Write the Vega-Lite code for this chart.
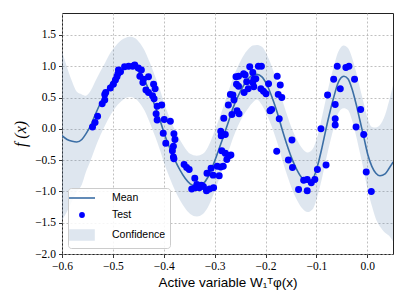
{
  "$schema": "https://vega.github.io/schema/vega-lite/v6.json",
  "width": 331,
  "height": 241,
  "autosize": "none",
  "padding": {"left": 62, "top": 13, "right": 14, "bottom": 51},
  "background": "white",
  "config": {
    "view": {"stroke": "#222222", "strokeWidth": 1},
    "axis": {
      "labelFont": "Liberation Serif", "labelFontSize": 11.5, "labelColor": "#000000",
      "tickColor": "#000000", "tickSize": 3.5, "tickWidth": 0.8, "domain": false,
      "gridColor": "#b0b0b0", "gridDash": [2, 2], "gridWidth": 0.8, "labelPadding": 3,
      "labelOverlap": false, "labelFlush": false, "labelBound": false,
      "titleFont": "Liberation Sans", "titleFontWeight": "normal", "titleColor": "#000000"
    },
    "axisX": {"values": [-0.6, -0.5, -0.4, -0.3, -0.2, -0.1, 0.0], "format": ".1f", "titleFontSize": 13.5, "titlePadding": 3},
    "axisY": {"values": [-2, -1.5, -1, -0.5, 0, 0.5, 1, 1.5], "format": ".1f", "titleFont": "Liberation Serif", "titleFontStyle": "italic", "titleFontSize": 16, "titlePadding": 6},
    "legend": {
      "title": null, "orient": "bottom-left", "offset": 6, "padding": 4,
      "fillColor": "rgba(255,255,255,0.85)", "strokeColor": "#cccccc", "cornerRadius": 3,
      "symbolSize": 100, "symbolOffset": 4, "labelFont": "Liberation Sans", "labelFontSize": 10.5,
      "labelColor": "#000000", "labelOffset": 24, "rowPadding": 5, "symbolStrokeWidth": 1.6
    }
  },
  "datasets": {
    "curve": [
      {"x": -0.600, "m": -0.11, "lo": -1.46, "hi": 1.24},
      {"x": -0.590, "m": -0.17, "lo": -1.32, "hi": 0.98},
      {"x": -0.580, "m": -0.20, "lo": -1.15, "hi": 0.75},
      {"x": -0.571, "m": -0.21, "lo": -1.01, "hi": 0.59},
      {"x": -0.561, "m": -0.17, "lo": -0.89, "hi": 0.55},
      {"x": -0.553, "m": -0.08, "lo": -0.69, "hi": 0.53},
      {"x": -0.545, "m": 0.03, "lo": -0.53, "hi": 0.59},
      {"x": -0.535, "m": 0.22, "lo": -0.31, "hi": 0.75},
      {"x": -0.525, "m": 0.40, "lo": -0.11, "hi": 0.91},
      {"x": -0.515, "m": 0.56, "lo": 0.06, "hi": 1.06},
      {"x": -0.506, "m": 0.70, "lo": 0.20, "hi": 1.20},
      {"x": -0.496, "m": 0.82, "lo": 0.33, "hi": 1.31},
      {"x": -0.486, "m": 0.91, "lo": 0.42, "hi": 1.40},
      {"x": -0.476, "m": 0.97, "lo": 0.49, "hi": 1.45},
      {"x": -0.466, "m": 0.99, "lo": 0.51, "hi": 1.47},
      {"x": -0.457, "m": 0.97, "lo": 0.49, "hi": 1.45},
      {"x": -0.447, "m": 0.89, "lo": 0.41, "hi": 1.37},
      {"x": -0.437, "m": 0.76, "lo": 0.28, "hi": 1.24},
      {"x": -0.427, "m": 0.57, "lo": 0.09, "hi": 1.05},
      {"x": -0.417, "m": 0.36, "lo": -0.12, "hi": 0.84},
      {"x": -0.407, "m": 0.13, "lo": -0.35, "hi": 0.61},
      {"x": -0.398, "m": -0.10, "lo": -0.58, "hi": 0.38},
      {"x": -0.388, "m": -0.31, "lo": -0.79, "hi": 0.17},
      {"x": -0.378, "m": -0.50, "lo": -0.98, "hi": -0.02},
      {"x": -0.368, "m": -0.66, "lo": -1.14, "hi": -0.18},
      {"x": -0.358, "m": -0.79, "lo": -1.27, "hi": -0.31},
      {"x": -0.348, "m": -0.88, "lo": -1.36, "hi": -0.40},
      {"x": -0.335, "m": -0.92, "lo": -1.40, "hi": -0.43},
      {"x": -0.323, "m": -0.88, "lo": -1.36, "hi": -0.40},
      {"x": -0.313, "m": -0.77, "lo": -1.25, "hi": -0.29},
      {"x": -0.303, "m": -0.58, "lo": -1.06, "hi": -0.10},
      {"x": -0.293, "m": -0.36, "lo": -0.84, "hi": 0.12},
      {"x": -0.283, "m": -0.13, "lo": -0.61, "hi": 0.35},
      {"x": -0.273, "m": 0.11, "lo": -0.37, "hi": 0.59},
      {"x": -0.264, "m": 0.33, "lo": -0.15, "hi": 0.81},
      {"x": -0.254, "m": 0.52, "lo": 0.05, "hi": 1.00},
      {"x": -0.244, "m": 0.68, "lo": 0.21, "hi": 1.16},
      {"x": -0.234, "m": 0.80, "lo": 0.33, "hi": 1.27},
      {"x": -0.225, "m": 0.86, "lo": 0.42, "hi": 1.33},
      {"x": -0.217, "m": 0.87, "lo": 0.47, "hi": 1.34},
      {"x": -0.207, "m": 0.83, "lo": 0.38, "hi": 1.31},
      {"x": -0.197, "m": 0.70, "lo": 0.22, "hi": 1.18},
      {"x": -0.187, "m": 0.50, "lo": 0.02, "hi": 0.98},
      {"x": -0.177, "m": 0.26, "lo": -0.22, "hi": 0.74},
      {"x": -0.168, "m": 0.01, "lo": -0.47, "hi": 0.49},
      {"x": -0.158, "m": -0.25, "lo": -0.73, "hi": 0.23},
      {"x": -0.148, "m": -0.48, "lo": -0.96, "hi": 0.00},
      {"x": -0.138, "m": -0.66, "lo": -1.14, "hi": -0.18},
      {"x": -0.128, "m": -0.79, "lo": -1.27, "hi": -0.31},
      {"x": -0.117, "m": -0.85, "lo": -1.33, "hi": -0.38},
      {"x": -0.107, "m": -0.80, "lo": -1.28, "hi": -0.32},
      {"x": -0.097, "m": -0.57, "lo": -1.05, "hi": -0.09},
      {"x": -0.089, "m": -0.30, "lo": -0.79, "hi": 0.19},
      {"x": -0.081, "m": 0.00, "lo": -0.49, "hi": 0.49},
      {"x": -0.073, "m": 0.28, "lo": -0.21, "hi": 0.77},
      {"x": -0.065, "m": 0.53, "lo": 0.04, "hi": 1.02},
      {"x": -0.058, "m": 0.72, "lo": 0.23, "hi": 1.21},
      {"x": -0.052, "m": 0.81, "lo": 0.31, "hi": 1.30},
      {"x": -0.046, "m": 0.84, "lo": 0.33, "hi": 1.33},
      {"x": -0.038, "m": 0.80, "lo": 0.30, "hi": 1.29},
      {"x": -0.030, "m": 0.64, "lo": 0.14, "hi": 1.14},
      {"x": -0.022, "m": 0.40, "lo": -0.11, "hi": 0.91},
      {"x": -0.014, "m": 0.12, "lo": -0.40, "hi": 0.64},
      {"x": -0.006, "m": -0.16, "lo": -0.70, "hi": 0.38},
      {"x": 0.001, "m": -0.41, "lo": -0.98, "hi": 0.16},
      {"x": 0.009, "m": -0.60, "lo": -1.23, "hi": 0.03},
      {"x": 0.017, "m": -0.71, "lo": -1.44, "hi": 0.02},
      {"x": 0.025, "m": -0.75, "lo": -1.56, "hi": 0.06},
      {"x": 0.035, "m": -0.72, "lo": -1.66, "hi": 0.22},
      {"x": 0.043, "m": -0.63, "lo": -1.71, "hi": 0.45},
      {"x": 0.051, "m": -0.53, "lo": -1.80, "hi": 0.71}
    ],
    "test": [
      {"x": -0.540, "y": 0.03, "s": "Test"}, {"x": -0.535, "y": 0.10, "s": "Test"}, {"x": -0.530, "y": 0.20, "s": "Test"},
      {"x": -0.521, "y": 0.40, "s": "Test"}, {"x": -0.516, "y": 0.46, "s": "Test"}, {"x": -0.516, "y": 0.55, "s": "Test"},
      {"x": -0.514, "y": 0.58, "s": "Test"}, {"x": -0.505, "y": 0.65, "s": "Test"}, {"x": -0.499, "y": 0.71, "s": "Test"},
      {"x": -0.495, "y": 0.78, "s": "Test"}, {"x": -0.492, "y": 0.83, "s": "Test"}, {"x": -0.490, "y": 0.88, "s": "Test"},
      {"x": -0.489, "y": 0.94, "s": "Test"}, {"x": -0.485, "y": 0.91, "s": "Test"}, {"x": -0.477, "y": 0.99, "s": "Test"},
      {"x": -0.469, "y": 1.00, "s": "Test"}, {"x": -0.461, "y": 1.00, "s": "Test"}, {"x": -0.457, "y": 1.02, "s": "Test"},
      {"x": -0.450, "y": 0.97, "s": "Test"}, {"x": -0.444, "y": 0.94, "s": "Test"}, {"x": -0.447, "y": 0.84, "s": "Test"},
      {"x": -0.440, "y": 0.79, "s": "Test"}, {"x": -0.441, "y": 0.74, "s": "Test"}, {"x": -0.430, "y": 0.83, "s": "Test"},
      {"x": -0.435, "y": 0.62, "s": "Test"}, {"x": -0.430, "y": 0.58, "s": "Test"}, {"x": -0.420, "y": 0.71, "s": "Test"},
      {"x": -0.417, "y": 0.64, "s": "Test"}, {"x": -0.422, "y": 0.53, "s": "Test"}, {"x": -0.419, "y": 0.48, "s": "Test"},
      {"x": -0.413, "y": 0.36, "s": "Test"}, {"x": -0.404, "y": 0.38, "s": "Test"}, {"x": -0.415, "y": 0.24, "s": "Test"},
      {"x": -0.413, "y": 0.14, "s": "Test"}, {"x": -0.399, "y": 0.15, "s": "Test"}, {"x": -0.387, "y": 0.12, "s": "Test"},
      {"x": -0.401, "y": -0.07, "s": "Test"}, {"x": -0.380, "y": -0.08, "s": "Test"}, {"x": -0.396, "y": -0.23, "s": "Test"},
      {"x": -0.378, "y": -0.17, "s": "Test"}, {"x": -0.381, "y": -0.28, "s": "Test"}, {"x": -0.383, "y": -0.35, "s": "Test"},
      {"x": -0.381, "y": -0.45, "s": "Test"}, {"x": -0.380, "y": -0.48, "s": "Test"}, {"x": -0.360, "y": -0.57, "s": "Test"},
      {"x": -0.355, "y": -0.62, "s": "Test"}, {"x": -0.350, "y": -0.65, "s": "Test"}, {"x": -0.339, "y": -0.79, "s": "Test"},
      {"x": -0.345, "y": -0.96, "s": "Test"}, {"x": -0.338, "y": -0.94, "s": "Test"}, {"x": -0.335, "y": -0.89, "s": "Test"},
      {"x": -0.330, "y": -0.94, "s": "Test"}, {"x": -0.326, "y": -0.90, "s": "Test"}, {"x": -0.322, "y": -0.92, "s": "Test"},
      {"x": -0.316, "y": -0.99, "s": "Test"}, {"x": -0.310, "y": -0.96, "s": "Test"}, {"x": -0.302, "y": -0.94, "s": "Test"},
      {"x": -0.315, "y": -0.71, "s": "Test"}, {"x": -0.307, "y": -0.63, "s": "Test"}, {"x": -0.303, "y": -0.74, "s": "Test"},
      {"x": -0.295, "y": -0.60, "s": "Test"}, {"x": -0.291, "y": -0.75, "s": "Test"}, {"x": -0.288, "y": -0.61, "s": "Test"},
      {"x": -0.283, "y": -0.60, "s": "Test"}, {"x": -0.286, "y": -0.35, "s": "Test"}, {"x": -0.287, "y": -0.11, "s": "Test"},
      {"x": -0.279, "y": -0.39, "s": "Test"}, {"x": -0.276, "y": -0.49, "s": "Test"}, {"x": -0.272, "y": -0.43, "s": "Test"},
      {"x": -0.268, "y": -0.42, "s": "Test"}, {"x": -0.279, "y": -0.09, "s": "Test"}, {"x": -0.288, "y": -0.04, "s": "Test"},
      {"x": -0.282, "y": 0.17, "s": "Test"}, {"x": -0.273, "y": 0.38, "s": "Test"}, {"x": -0.269, "y": 0.55, "s": "Test"},
      {"x": -0.264, "y": 0.54, "s": "Test"}, {"x": -0.262, "y": 0.46, "s": "Test"}, {"x": -0.266, "y": 0.23, "s": "Test"},
      {"x": -0.256, "y": 0.29, "s": "Test"}, {"x": -0.252, "y": 0.24, "s": "Test"}, {"x": -0.258, "y": 0.83, "s": "Test"},
      {"x": -0.253, "y": 0.84, "s": "Test"}, {"x": -0.257, "y": 0.71, "s": "Test"}, {"x": -0.253, "y": 0.68, "s": "Test"},
      {"x": -0.243, "y": 0.88, "s": "Test"}, {"x": -0.240, "y": 0.86, "s": "Test"}, {"x": -0.242, "y": 0.58, "s": "Test"},
      {"x": -0.234, "y": 0.64, "s": "Test"}, {"x": -0.237, "y": 0.75, "s": "Test"}, {"x": -0.231, "y": 0.99, "s": "Test"},
      {"x": -0.225, "y": 0.90, "s": "Test"}, {"x": -0.225, "y": 0.74, "s": "Test"}, {"x": -0.223, "y": 0.67, "s": "Test"},
      {"x": -0.219, "y": 0.80, "s": "Test"}, {"x": -0.223, "y": 0.79, "s": "Test"}, {"x": -0.214, "y": 1.00, "s": "Test"},
      {"x": -0.208, "y": 1.00, "s": "Test"}, {"x": -0.209, "y": 0.64, "s": "Test"}, {"x": -0.204, "y": 0.60, "s": "Test"},
      {"x": -0.199, "y": 0.56, "s": "Test"}, {"x": -0.194, "y": 0.72, "s": "Test"}, {"x": -0.191, "y": 0.29, "s": "Test"},
      {"x": -0.188, "y": 0.31, "s": "Test"}, {"x": -0.177, "y": 0.84, "s": "Test"}, {"x": -0.175, "y": 0.55, "s": "Test"},
      {"x": -0.173, "y": 0.16, "s": "Test"}, {"x": -0.171, "y": 0.70, "s": "Test"}, {"x": -0.168, "y": 0.50, "s": "Test"},
      {"x": -0.178, "y": -0.36, "s": "Test"}, {"x": -0.155, "y": -0.50, "s": "Test"}, {"x": -0.148, "y": -0.18, "s": "Test"},
      {"x": -0.147, "y": -0.62, "s": "Test"}, {"x": -0.135, "y": -0.97, "s": "Test"}, {"x": -0.125, "y": -0.82, "s": "Test"},
      {"x": -0.118, "y": -0.81, "s": "Test"}, {"x": -0.118, "y": -0.99, "s": "Test"}, {"x": -0.110, "y": -0.86, "s": "Test"},
      {"x": -0.103, "y": -0.81, "s": "Test"}, {"x": -0.098, "y": -0.65, "s": "Test"}, {"x": -0.081, "y": -0.58, "s": "Test"},
      {"x": -0.091, "y": 0.00, "s": "Test"}, {"x": -0.078, "y": 0.54, "s": "Test"}, {"x": -0.066, "y": 0.79, "s": "Test"},
      {"x": -0.059, "y": 1.00, "s": "Test"}, {"x": -0.053, "y": 0.64, "s": "Test"}, {"x": -0.063, "y": 0.39, "s": "Test"},
      {"x": -0.063, "y": 0.16, "s": "Test"}, {"x": -0.063, "y": 0.06, "s": "Test"}, {"x": -0.042, "y": 0.98, "s": "Test"},
      {"x": -0.036, "y": 1.00, "s": "Test"}, {"x": -0.025, "y": 0.79, "s": "Test"}, {"x": -0.013, "y": 0.31, "s": "Test"},
      {"x": -0.022, "y": 0.03, "s": "Test"}, {"x": -0.007, "y": -0.09, "s": "Test"}, {"x": -0.002, "y": -0.69, "s": "Test"},
      {"x": 0.008, "y": -1.00, "s": "Test"}
    ]
  },
  "layer": [
    {
      "data": {"name": "curve"},
      "mark": {"type": "area", "interpolate": "monotone", "fill": "#5b84b1", "opacity": 0.2, "clip": true},
      "encoding": {
        "x": {"field": "x", "type": "quantitative", "scale": {"domain": [-0.6, 0.0506], "nice": false, "zero": false},
          "axis": {"title": "Active variable W₁ᵀφ(x)"}},
        "y": {"field": "lo", "type": "quantitative", "scale": {"domain": [-2, 1.85], "nice": false, "zero": false},
          "axis": {"title": "f (x)"}},
        "y2": {"field": "hi"}
      }
    },
    {
      "data": {"name": "curve"},
      "mark": {"type": "line", "interpolate": "monotone", "color": "#3b6ea5", "strokeWidth": 1.6, "clip": true},
      "encoding": {
        "x": {"field": "x", "type": "quantitative"},
        "y": {"field": "m", "type": "quantitative"}
      }
    },
    {
      "data": {"name": "test"},
      "mark": {"type": "point", "filled": true, "size": 165, "strokeWidth": 1.6, "opacity": 1, "clip": true},
      "encoding": {
        "x": {"field": "x", "type": "quantitative"},
        "y": {"field": "y", "type": "quantitative"},
        "color": {"field": "s", "type": "nominal",
          "scale": {"domain": ["Mean", "Test", "Confidence"], "range": ["#3b6ea5", "#0000ff", "#dee6ef"]}},
        "stroke": {"field": "s", "type": "nominal",
          "scale": {"domain": ["Mean", "Test", "Confidence"], "range": ["#3b6ea5", "#0000ff", "#dee6ef"]}},
        "shape": {"field": "s", "type": "nominal",
          "scale": {"domain": ["Mean", "Test", "Confidence"], "range": ["M-2.6,0H2.6", "M-0.42,0A0.42,0.42,0,1,1,0.42,0A0.42,0.42,0,1,1,-0.42,0Z", "M-2.4,-1H2.4V1H-2.4Z"]}}
      }
    }
  ]
}
